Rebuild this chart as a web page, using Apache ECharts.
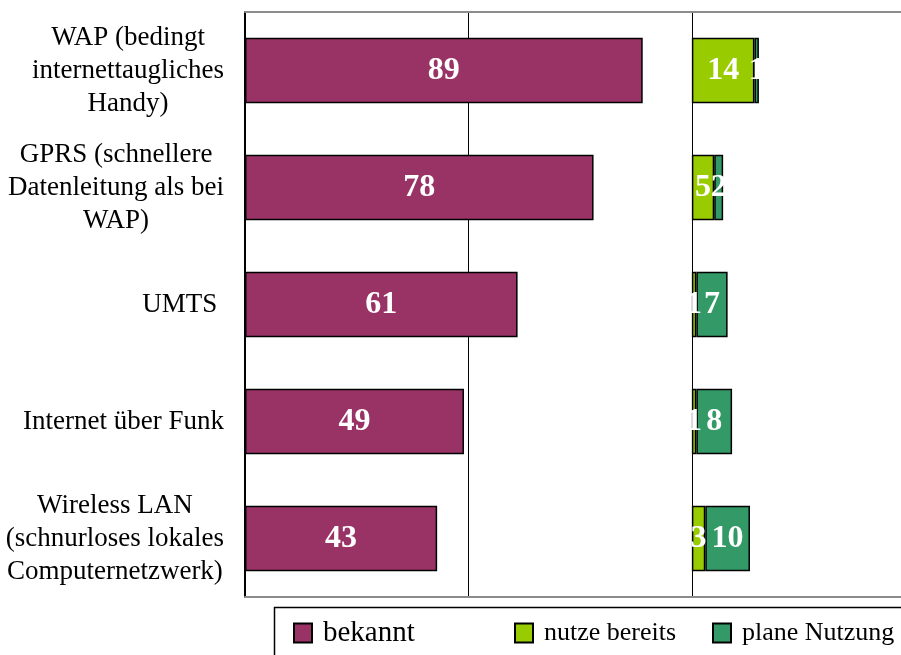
<!DOCTYPE html>
<html>
<head>
<meta charset="utf-8">
<script src="https://cdn.jsdelivr.net/npm/echarts@6/dist/echarts.min.js"></script>
<style>
  html, body { margin: 0; padding: 0; background: #fff; }
  #chart { width: 901px; height: 655px; }
</style>
</head>
<body>
<div id="chart"></div>
<script>
// data
const categories = [
  'WAP (bedingt\ninternettaugliches\nHandy)',
  'GPRS (schnellere\nDatenleitung als bei\nWAP)',
  'UMTS ',
  'Internet über Funk',
  'Wireless LAN\n(schnurloses lokales\nComputernetzwerk)'
]
const bekannt = [89, 78, 61, 49, 43]
const nutzeBereits = [14, 5, 1, 1, 3]
const planeNutzung = [1, 2, 7, 8, 10]
const panelOffset = 100   // right panel starts at 100 on the shared axis

const serif = "'Liberation Serif', 'Times New Roman', serif"
const barBorder = { borderColor: '#000', borderWidth: 1.5 }
const barLabel = {
  show: true, position: 'inside', color: '#fff',
  fontFamily: serif, fontSize: 32, fontWeight: 'bold'
}

const chart = echarts.init(document.getElementById('chart'))

function legendAt(name, left, size) {
  return {
    left, top: 633 - size / 2, padding: 0,
    itemWidth: 18, itemHeight: 19, icon: 'rect',
    data: [name],
    textStyle: { fontFamily: serif, fontSize: size, color: '#000', padding: [0, 0, 0, 6] }
  }
}

const valueAxis = (position, showSplit) => ({
  type: 'value', position, min: 0, max: 146.8, interval: 50,
  axisLine: { show: true, onZero: false, lineStyle: { color: '#8c8c8c', width: 2 } },
  axisTick: { show: false },
  axisLabel: { show: false },
  splitLine: { show: showSplit, showMinLine: false, showMaxLine: false, lineStyle: { color: '#000', width: 1 } }
})

chart.setOption({
  animation: false,
  grid: { left: 245, right: 0, top: 12, bottom: 58 },
  xAxis: [valueAxis('bottom', true), valueAxis('top', false)],
  yAxis: {
    type: 'category', inverse: true, data: categories,
    axisLine: { lineStyle: { color: '#000', width: 2 } },
    axisTick: { length: 7, lineStyle: { color: '#000', width: 2 } },
    axisLabel: {
      margin: 21, color: '#000', fontFamily: serif, fontSize: 27, lineHeight: 33,
      formatter: v => v.split('\n').map(l => '{c|' + l + '}').join('\n'),
      rich: { c: { align: 'center', fontFamily: serif, fontSize: 27, lineHeight: 33, color: '#000' } }
    }
  },
  legend: [
    legendAt('bekannt', 293, 29),
    legendAt('nutze bereits', 514, 26),
    legendAt('plane Nutzung', 712, 26)
  ],
  graphic: [{
    type: 'rect', left: 272, top: 605, z: 0,
    shape: { width: 700, height: 100 },
    style: { fill: 'none', stroke: '#000', lineWidth: 1.5 }
  }],
  series: [
    {
      name: 'bekannt', type: 'bar', stack: 'left', data: bekannt,
      barCategoryGap: '44%', barGap: '-100%',
      itemStyle: Object.assign({ color: '#993366' }, barBorder),
      label: barLabel
    },
    {
      name: 'base', type: 'bar', stack: 'right', silent: true,
      data: categories.map(() => panelOffset),
      barCategoryGap: '44%', barGap: '-100%',
      itemStyle: { color: 'rgba(0,0,0,0)', borderWidth: 0 },
      label: { show: false }
    },
    {
      name: 'nutze bereits', type: 'bar', stack: 'right', data: nutzeBereits,
      barCategoryGap: '44%', barGap: '-100%',
      itemStyle: Object.assign({ color: '#99cc00' }, barBorder),
      label: barLabel
    },
    {
      name: 'plane Nutzung', type: 'bar', stack: 'right', data: planeNutzung,
      barCategoryGap: '44%', barGap: '-100%',
      itemStyle: Object.assign({ color: '#339966' }, barBorder),
      label: barLabel
    }
  ]
})
</script>
</body>
</html>
